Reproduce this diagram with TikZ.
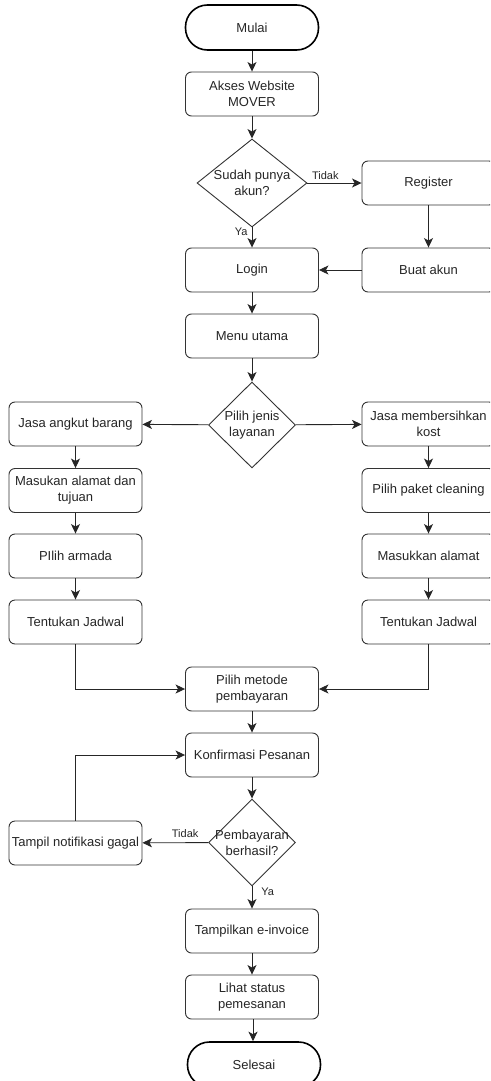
\documentclass[tikz,border=0pt]{standalone}
\usepackage{fontspec}
\setmainfont{Liberation Sans}
\usetikzlibrary{shapes.geometric,arrows.meta}
\tikzset{
  box/.style={draw=black!80, line width=0.9pt, rounded corners=6pt, minimum width=133pt, minimum height=44pt, inner sep=1pt, align=center, font=\fontsize{13}{16}\selectfont, text=black!85},
  term/.style={draw=black, line width=1.6pt, rounded corners=22pt, minimum width=133pt, minimum height=45pt, align=center, font=\fontsize{13}{16}\selectfont, text=black!85},
  dia/.style={draw=black!80, line width=0.9pt, diamond, inner sep=0pt},
  dtxt/.style={align=center, font=\fontsize{13}{16}\selectfont, text=black!85, inner sep=0pt},
  lbl/.style={font=\fontsize{11}{13}\selectfont, text=black!85, inner sep=1pt},
  arr/.style={draw=black!85, line width=0.9pt, -{Stealth[length=9.5pt,width=9pt,inset=2.5pt]}}
}
\begin{document}
\begin{tikzpicture}[x=1pt,y=-1pt]
\useasboundingbox (0,0) rectangle (490,1081);
\fill[white] (0,0) rectangle (490,1081);
\clip (0,0) rectangle (490,1081);

\node[term] (mulai) at (252,27.5) {Mulai};
\node[box] (akses) at (252,94) {Akses Website\\MOVER};
\node[dia, minimum width=110pt, minimum height=88pt] (d1) at (252,183) {};
\node[dtxt] (d1t) at (252,183) {Sudah punya\\akun?};
\node[box] (reg) at (428.5,183) {Register};
\node[box] (login) at (252,270) {Login};
\node[box] (buat) at (428.5,270) {Buat akun};
\node[box] (menu) at (252,336) {Menu utama};
\node[dia, minimum width=87pt, minimum height=86pt] (d2) at (252,425) {};
\node[dtxt] (d2t) at (252,425) {Pilih jenis\\layanan};

\node[box] (l1) at (75.5,424) {Jasa angkut barang};
\node[box] (l2) at (75.5,490.5) {Masukan alamat dan\\tujuan};
\node[box] (l3) at (75.5,556) {PIlih armada};
\node[box] (l4) at (75.5,622) {Tentukan Jadwal};

\node[box] (r1) at (428.5,424) {Jasa membersihkan\\kost};
\node[box] (r2) at (428.5,490.5) {Pilih paket cleaning};
\node[box] (r3) at (428.5,556) {Masukkan alamat};
\node[box] (r4) at (428.5,622) {Tentukan Jadwal};

\node[box] (metode) at (252,689) {Pilih metode\\pembayaran};
\node[box] (konf) at (252,755) {Konfirmasi Pesanan};
\node[dia, minimum width=87pt, minimum height=87pt] (d3) at (252,842.5) {};
\node[dtxt] (d3t) at (252,842.5) {Pembayaran\\berhasil?};
\node[box] (gagal) at (75.5,843) {Tampil notifikasi gagal};
\node[box] (inv) at (252,931) {Tampilkan e-invoice};
\node[box] (lihat) at (252,997) {Lihat status\\pemesanan};
\node[term] (selesai) at (254,1064.5) {Selesai};

\draw[arr] (mulai) -- (akses);
\draw[arr] (akses) -- (d1);
\draw[arr] (d1) -- node[lbl, above=2pt, pos=0.33] {Tidak} (reg);
\draw[arr] (d1) -- node[lbl, left=3pt, pos=0.2] {Ya} (login);
\draw[arr] (reg) -- (buat);
\draw[arr] (buat) -- (login);
\draw[arr] (login) -- (menu);
\draw[arr] (menu) -- (d2);
\draw[arr] (d2) -- (l1);
\draw[arr] (d2) -- (r1);
\draw[arr] (l1) -- (l2);
\draw[arr] (l2) -- (l3);
\draw[arr] (l3) -- (l4);
\draw[arr] (r1) -- (r2);
\draw[arr] (r2) -- (r3);
\draw[arr] (r3) -- (r4);
\draw[arr] (l4) |- (metode);
\draw[arr] (r4) |- (metode);
\draw[arr] (metode) -- (konf);
\draw[arr] (konf) -- (d3);
\draw[arr] (d3) -- node[lbl, above=4pt, pos=0.35] {Tidak} (gagal);
\draw[arr] (gagal) |- (konf);
\draw[arr] (d3) -- node[lbl, right=8pt, pos=0.25] {Ya} (inv);
\draw[arr] (inv) -- (lihat);
\draw[arr] ([xshift=1pt]lihat.south) -- ([xshift=-1pt]selesai.north);
\end{tikzpicture}
\end{document}
